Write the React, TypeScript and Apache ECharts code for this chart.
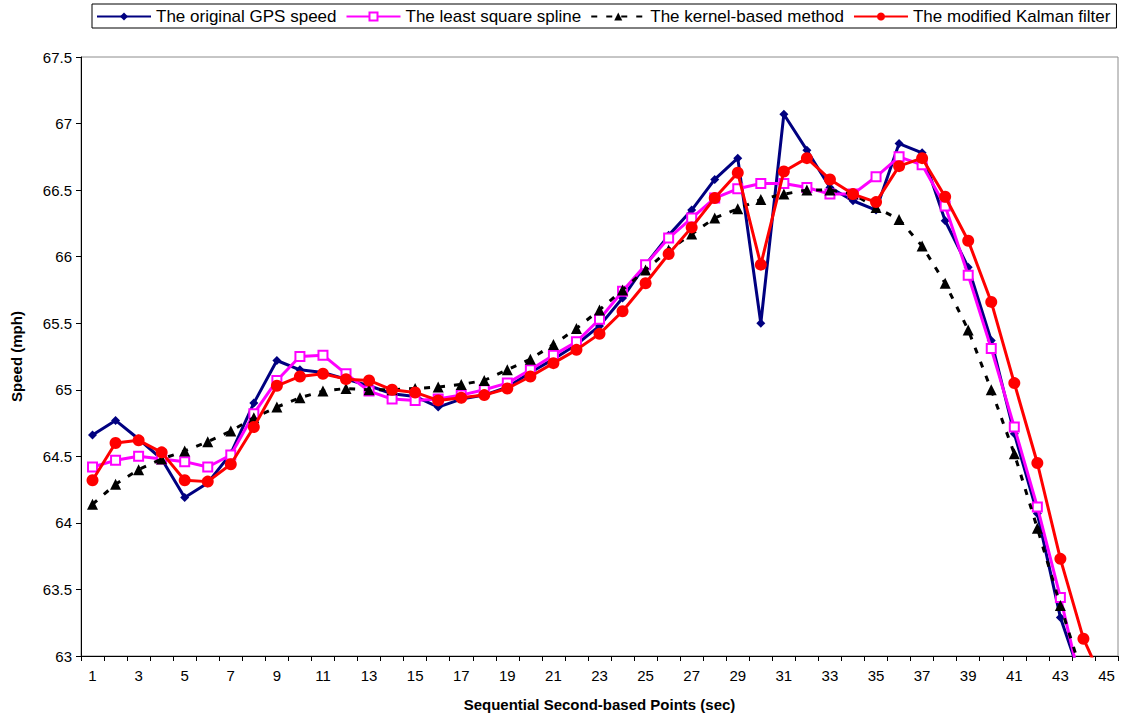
import React, { useEffect, useRef } from "react";
import * as echarts from "echarts";

const categories = Array.from({ length: 45 }, (_, i) => String(i + 1));

const gpsSpeed = [
  64.66, 64.77, 64.63, 64.48, 64.19, 64.3, 64.52, 64.9, 65.22, 65.15, 65.13, 65.08, 65.03, 64.97, 64.95,
  64.87, 64.93, 64.96, 65.02, 65.13, 65.23, 65.34, 65.48, 65.69, 65.94, 66.16, 66.35, 66.58, 66.74, 65.5,
  67.07, 66.8, 66.52, 66.42, 66.35, 66.85, 66.78, 66.27, 65.92, 65.37, 64.67, 64.07, 63.29, 62.78, 62.3,
];

const leastSquareSpline = [
  64.42, 64.47, 64.5, 64.48, 64.46, 64.42, 64.51, 64.82, 65.07, 65.25, 65.26, 65.12, 64.99, 64.93, 64.92,
  64.93, 64.96, 65.0, 65.05, 65.15, 65.26, 65.36, 65.53, 65.74, 65.94, 66.14, 66.29, 66.44, 66.51, 66.55,
  66.55, 66.52, 66.47, 66.47, 66.6, 66.75, 66.69, 66.38, 65.86, 65.31, 64.72, 64.12, 63.44, 62.7, 62.0,
];

const kernelBased = [
  64.14, 64.29, 64.4, 64.48, 64.54, 64.61, 64.69, 64.79, 64.87, 64.94, 64.99, 65.01, 65.0, 65.0, 65.01,
  65.02, 65.04, 65.07, 65.15, 65.23, 65.34, 65.46, 65.6, 65.75, 65.9, 66.05, 66.17, 66.29, 66.36, 66.43,
  66.47, 66.5, 66.5, 66.47, 66.37, 66.28, 66.08, 65.8, 65.45, 65.0, 64.52, 63.96, 63.38, 62.83, 62.2,
];

const modifiedKalman = [
  64.32, 64.6, 64.62, 64.53, 64.32, 64.31, 64.44, 64.72, 65.03, 65.1, 65.12, 65.08, 65.07, 65.0, 64.98,
  64.92, 64.94, 64.96, 65.01, 65.1, 65.2, 65.3, 65.42, 65.59, 65.8, 66.02, 66.22, 66.44, 66.63, 65.94,
  66.64, 66.74, 66.58, 66.47, 66.41, 66.68, 66.74, 66.45, 66.12, 65.66, 65.05, 64.45, 63.73, 63.13, 62.75,
];

const seriesNames = [
  "The original GPS speed",
  "The least square spline",
  "The kernel-based method",
  "The modified Kalman filter",
];

export default function App() {
  const ref = useRef<HTMLDivElement>(null);

  useEffect(() => {
    if (!ref.current) return;
    const chart = echarts.init(ref.current, undefined, { renderer: "svg" });
    const font = "Arial, 'Liberation Sans', sans-serif";
    chart.setOption({
      animation: false,
      backgroundColor: "#ffffff",
      textStyle: { fontFamily: font, color: "#000" },
      legend: {
        left: 92,
        top: 4,
        padding: [4, 6, 3, 4],
        itemGap: 9,
        itemWidth: 54,
        itemHeight: 10,
        borderColor: "#000",
        borderWidth: 1,
        textStyle: { fontSize: 17, color: "#000", fontFamily: font },
        data: seriesNames,
      },
      grid: {
        left: 81,
        right: 4,
        top: 57,
        bottom: 63,
        show: true,
        borderColor: "#8c8c8c",
        borderWidth: 1,
        containLabel: false,
      },
      xAxis: {
        type: "category",
        data: categories,
        boundaryGap: true,
        name: "Sequential Second-based Points (sec)",
        nameLocation: "middle",
        nameGap: 41,
        nameTextStyle: { fontSize: 15, fontWeight: "bold", color: "#000", fontFamily: font },
        axisLine: { lineStyle: { color: "#000", width: 1 } },
        axisTick: { show: true, interval: 0, length: 5, lineStyle: { color: "#000" } },
        axisLabel: { interval: 1, fontSize: 15, color: "#000", margin: 12, fontFamily: font },
        splitLine: { show: false },
      },
      yAxis: {
        type: "value",
        min: 63,
        max: 67.5,
        interval: 0.5,
        name: "Speed (mph)",
        nameLocation: "middle",
        nameGap: 57,
        nameTextStyle: { fontSize: 15, fontWeight: "bold", color: "#000", fontFamily: font },
        axisLine: { show: true, lineStyle: { color: "#000", width: 1 } },
        axisTick: { show: true, length: 5, lineStyle: { color: "#000" } },
        axisLabel: { fontSize: 15, color: "#000", margin: 9, fontFamily: font },
        splitLine: { show: false },
      },
      series: [
        {
          name: seriesNames[0],
          type: "line",
          data: gpsSpeed,
          symbol: "diamond",
          symbolSize: 9,
          clip: true,
          lineStyle: { color: "#000080", width: 3 },
          itemStyle: { color: "#000080" },
          z: 2,
        },
        {
          name: seriesNames[1],
          type: "line",
          data: leastSquareSpline,
          symbol: "emptyRect",
          symbolSize: 9,
          clip: true,
          lineStyle: { color: "#ff00ff", width: 3 },
          itemStyle: { color: "#ff00ff", borderColor: "#ff00ff", borderWidth: 1.5 },
          z: 3,
        },
        {
          name: seriesNames[2],
          type: "line",
          data: kernelBased,
          symbol: "triangle",
          symbolSize: 11,
          clip: true,
          lineStyle: { color: "#000000", width: 3, type: [6, 9] },
          itemStyle: { color: "#000000" },
          z: 4,
        },
        {
          name: seriesNames[3],
          type: "line",
          data: modifiedKalman,
          symbol: "circle",
          symbolSize: 12,
          clip: true,
          lineStyle: { color: "#ff0000", width: 3 },
          itemStyle: { color: "#ff0000" },
          z: 5,
        },
      ],
    });
    return () => chart.dispose();
  }, []);

  return (
    <div
      ref={ref}
      style={{ position: "absolute", left: 0, top: 0, width: 1122, height: 719, background: "#fff" }}
    />
  );
}
